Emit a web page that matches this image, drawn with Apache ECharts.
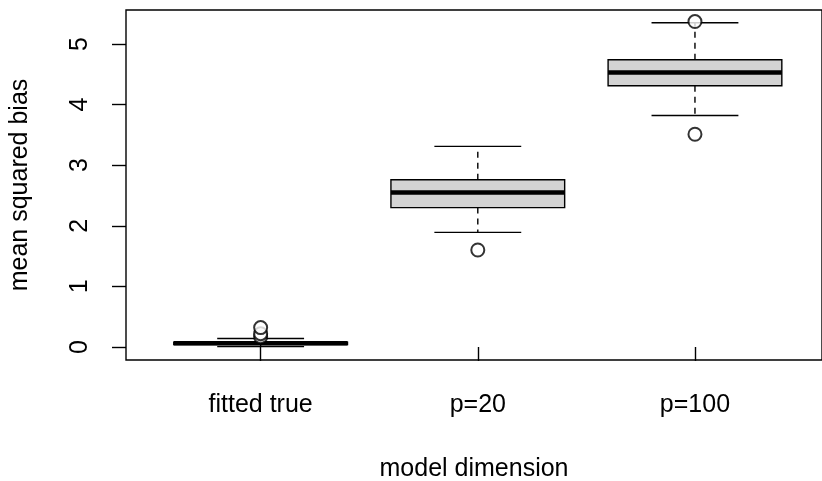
<!DOCTYPE html>
<html>
<head>
<meta charset="utf-8">
<script src="https://cdn.jsdelivr.net/npm/echarts@6/dist/echarts.min.js"></script>
<style>
  html, body { margin: 0; padding: 0; background: #fff; }
  #main { width: 822px; height: 481px; }
</style>
</head>
<body>
<div id="main"></div>
<script>
var myChart = echarts.init(document.getElementById('main'));

// box statistics
var groupNames = ['fitted true', 'p=20', 'p=100'];
var groupPos = [1, 2, 3];
var lowWhisker = [0.005, 1.89, 3.82];
var q1 = [0.04, 2.30, 4.31];
var median = [0.06, 2.55, 4.53];
var q3 = [0.08, 2.76, 4.74];
var highWhisker = [0.14, 3.31, 5.35];
// outliers as [x, value]
var outliers = [[1, 0.17], [1, 0.22], [1, 0.32], [2, 1.60], [3, 3.51], [3, 5.37]];
var yTicks = [0, 1, 2, 3, 4, 5];

var boxData = groupPos.map(function (x, i) {
    return [x, lowWhisker[i], q1[i], median[i], q3[i], highWhisker[i]];
});

var font = 'Liberation Sans, Arial, Helvetica, sans-serif';

function renderBox(params, api) {
    var x = api.value(0);
    var halfW = api.size([0.8, 0])[0] / 2;
    var capW = halfW / 2;
    var pLow = api.coord([x, api.value(1)]);
    var pQ1 = api.coord([x, api.value(2)]);
    var pMed = api.coord([x, api.value(3)]);
    var pQ3 = api.coord([x, api.value(4)]);
    var pHigh = api.coord([x, api.value(5)]);
    var cx = pMed[0];
    var dash = { stroke: '#000', lineWidth: 1.4, lineDash: [6, 5] };
    var solid = { stroke: '#000', lineWidth: 1.4 };
    return {
        type: 'group',
        children: [
            { type: 'line', shape: { x1: cx, y1: pQ3[1], x2: cx, y2: pHigh[1] }, style: dash },
            { type: 'line', shape: { x1: cx, y1: pQ1[1], x2: cx, y2: pLow[1] }, style: dash },
            { type: 'line', shape: { x1: cx - capW, y1: pHigh[1], x2: cx + capW, y2: pHigh[1] }, style: solid },
            { type: 'line', shape: { x1: cx - capW, y1: pLow[1], x2: cx + capW, y2: pLow[1] }, style: solid },
            {
                type: 'rect',
                shape: { x: cx - halfW, y: pQ3[1], width: halfW * 2, height: pQ1[1] - pQ3[1] },
                style: { fill: '#d3d3d3', stroke: '#000', lineWidth: 1.4 }
            },
            { type: 'line', shape: { x1: cx - halfW, y1: pMed[1], x2: cx + halfW, y2: pMed[1] }, style: { stroke: '#000', lineWidth: 4.5 } }
        ]
    };
}

option = {
    backgroundColor: '#fff',
    animation: false,
    grid: {
        left: 126,
        right: 0,
        top: 10,
        bottom: 121,
        containLabel: false,
        outerBoundsMode: 'none',
        show: true,
        borderColor: '#000',
        borderWidth: 1.4,
        backgroundColor: 'transparent'
    },
    xAxis: {
        type: 'value',
        min: 0.38,
        max: 3.585,
        splitLine: { show: false },
        axisLine: { show: false },
        axisTick: { show: true, length: 14, customValues: groupPos, lineStyle: { color: '#000', width: 1.4 } },
        axisLabel: {
            customValues: groupPos,
            color: '#000',
            fontFamily: font,
            fontSize: 25,
            margin: 33,
            formatter: function (v) { return groupNames[Math.round(v) - 1]; }
        },
        name: 'model dimension',
        nameLocation: 'middle',
        nameGap: 97,
        nameTextStyle: { color: '#000', fontFamily: font, fontSize: 25 }
    },
    yAxis: {
        type: 'value',
        min: -0.215,
        max: 5.56,
        splitLine: { show: false },
        axisLine: { show: false },
        axisTick: { show: true, length: 14, customValues: yTicks, lineStyle: { color: '#000', width: 1.4 } },
        axisLabel: {
            customValues: yTicks,
            rotate: 90,
            color: '#000',
            fontFamily: font,
            fontSize: 25,
            margin: 33
        },
        name: 'mean squared bias',
        nameLocation: 'middle',
        nameGap: 93,
        nameRotate: 90,
        nameTextStyle: { color: '#000', fontFamily: font, fontSize: 25 }
    },
    series: [
        {
            type: 'custom',
            renderItem: renderBox,
            encode: { x: 0, y: [1, 2, 3, 4, 5] },
            data: boxData,
            z: 2
        },
        {
            type: 'scatter',
            symbol: 'emptyCircle',
            symbolSize: 13,
            itemStyle: { color: '#000', borderColor: '#000', borderWidth: 1.4 },
            data: outliers,
            z: 3
        }
    ]
};

myChart.setOption(option);
</script>
</body>
</html>
